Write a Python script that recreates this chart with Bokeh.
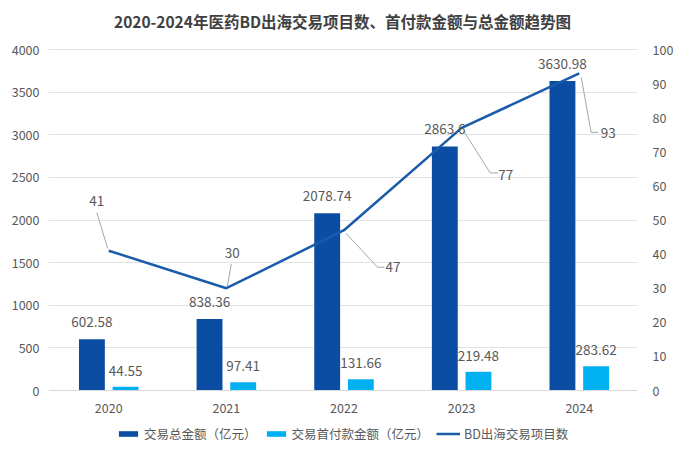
from bokeh.plotting import figure
from bokeh.models import Range1d, LinearAxis, FixedTicker, Legend, LegendItem, ColumnDataSource, Span
from bokeh.core.properties import value
from bokeh.embed import file_html
from bokeh.resources import INLINE

title_text = "2020-2024年医药BD出海交易项目数、首付款金额与总金额趋势图"
years = ["2020", "2021", "2022", "2023", "2024"]
total_amount = [602.58, 838.36, 2078.74, 2863.6, 3630.98]
upfront_amount = [44.55, 97.41, 131.66, 219.48, 283.62]
deal_count = [41, 30, 47, 77, 93]
total_labels = ["602.58", "838.36", "2078.74", "2863.6", "3630.98"]
upfront_labels = ["44.55", "97.41", "131.66", "219.48", "283.62"]
count_labels = ["41", "30", "47", "77", "93"]
left_ticks = [0, 500, 1000, 1500, 2000, 2500, 3000, 3500, 4000]
right_ticks = [0, 10, 20, 30, 40, 50, 60, 70, 80, 90, 100]

# label placement for the count line (pixel offsets, style only)
lbl_dx = [-12, 6, 49, 44, 29]
lbl_dy = [-50, -35, 37, 47, 60]
lead_a = [(-12, -38), (5, -24), (2, 3), (2, 3), (2, 4)]
lead_b = [(-1, -2), (1, -2), (34, 37), (29, 45), (12, 59)]
lead_c = [None, None, (41, 37), (37, 45), (19, 59)]

FONT = "Noto Sans CJK SC"
DARK = "#0B4DA2"
LIGHT = "#00B0F0"
LINE = "#1A5BAA"
TXT = "#595959"

W, H = 676, 443
FRAME_L, FRAME_R = 48, 645
TOP_Y = 49             # pixel row of the top value line
ZERO_Y = 390           # pixel row of the zero line
TITLE_X, TITLE_Y = 346, 20
PLOT_H = ZERO_Y - TOP_Y
below_px = H - ZERO_Y

L_MAX, R_MAX = 4000, 100
l_per_px = L_MAX / PLOT_H
r_per_px = R_MAX / PLOT_H
l_min, l_top = -below_px * l_per_px, L_MAX + TOP_Y * l_per_px
r_min, r_top = -below_px * r_per_px, R_MAX + TOP_Y * r_per_px
X0, X1 = -0.512, 4.495

p = figure(width=W, height=H, output_backend="svg", toolbar_location=None,
           x_range=Range1d(X0, X1), y_range=Range1d(l_min, l_top),
           x_axis_location=None,
           min_border_left=FRAME_L, min_border_right=W - FRAME_R,
           min_border_top=0, min_border_bottom=0)
try:
    p.title = None
except Exception:
    p.title.visible = False
p.extra_y_ranges = {"cnt": Range1d(r_min, r_top)}
p.outline_line_color = None
p.background_fill_color = "white"
p.border_fill_color = "white"

px_x = (FRAME_R - FRAME_L) / (X1 - X0)
px_c = PLOT_H / R_MAX

# title, placed in data space at the top of the frame
p.text(x=[X0 + (TITLE_X - FRAME_L) / px_x], y=[l_top - TITLE_Y * l_per_px], text=[title_text],
       text_align="center", text_baseline="middle", text_font=value(FONT),
       text_font_size="15.5px", text_font_style="bold", text_color="#404040")

idx = list(range(len(years)))
xd = [i - 0.143 for i in idx]
xl = [i + 0.143 for i in idx]

# zero axis line
p.add_layout(Span(location=0, dimension="width", line_color="#D9D9D9", line_width=1))

r_total = p.vbar(x=xd, top=total_amount, width=0.22, fill_color=DARK, line_color=None)
r_up = p.vbar(x=xl, top=upfront_amount, width=0.22, fill_color=LIGHT, line_color=None)
r_line = p.line(x=idx, y=deal_count, line_color=LINE, line_width=2.5, y_range_name="cnt")

# leader lines
xs, ys = [], []
for i in idx:
    pts = [lead_a[i], lead_b[i]] + ([lead_c[i]] if lead_c[i] else [])
    xs.append([i + dx / px_x for dx, dy in pts])
    ys.append([deal_count[i] - dy / px_c for dx, dy in pts])
p.multi_line(xs=xs, ys=ys, line_color="#A6A6A6", line_width=1, y_range_name="cnt")

p.text(x=xd, y=total_amount, text=total_labels, text_align="center", text_baseline="bottom",
       y_offset=-12, text_font=value(FONT), text_font_size="13.5px", text_color=TXT)
p.text(x=xl, y=upfront_amount, text=upfront_labels, text_align="center", text_baseline="bottom",
       y_offset=-11, text_font=value(FONT), text_font_size="13.5px", text_color=TXT)
src = ColumnDataSource(dict(x=idx, y=deal_count, t=count_labels, dx=lbl_dx, dy=lbl_dy))
p.text(x="x", y="y", text="t", x_offset="dx", y_offset="dy", source=src, text_align="center",
       text_baseline="middle", text_font=value(FONT), text_font_size="13.5px", text_color=TXT,
       y_range_name="cnt")

# category labels under the zero line
p.text(x=idx, y=[0] * len(idx), text=years, text_align="center", text_baseline="middle",
       y_offset=17, text_font=value(FONT), text_font_size="12.5px", text_color=TXT)

p.yaxis.ticker = FixedTicker(ticks=left_ticks)
p.yaxis.axis_line_color = None
p.yaxis.major_tick_line_color = None
p.yaxis.minor_tick_line_color = None
p.yaxis.major_label_standoff = 3
p.yaxis.major_label_text_font = FONT
p.yaxis.major_label_text_font_size = "12.5px"
p.yaxis.major_label_text_color = TXT

ra = LinearAxis(y_range_name="cnt", ticker=FixedTicker(ticks=right_ticks))
ra.axis_line_color = None
ra.major_tick_line_color = None
ra.minor_tick_line_color = None
ra.major_label_standoff = 9
ra.major_label_text_font = FONT
ra.major_label_text_font_size = "12.5px"
ra.major_label_text_color = TXT
p.add_layout(ra, "right")

p.xgrid.grid_line_color = None
p.ygrid.grid_line_color = "#E3E3E3"
p.ygrid.ticker = FixedTicker(ticks=left_ticks[1:])

legend = Legend(items=[
    LegendItem(label="交易总金额（亿元）", renderers=[r_total]),
    LegendItem(label="交易首付款金额（亿元）", renderers=[r_up]),
    LegendItem(label="BD出海交易项目数", renderers=[r_line]),
], orientation="horizontal", location=(68, 0), border_line_color=None,
    background_fill_alpha=0, label_text_font=FONT, label_text_font_size="12.5px",
    label_text_color=TXT, glyph_width=24, glyph_height=7, spacing=7,
    label_standoff=4, padding=0, margin=0, label_height=14)
p.add_layout(legend, "center")

open("out.html", "w").write(file_html(p, INLINE))
